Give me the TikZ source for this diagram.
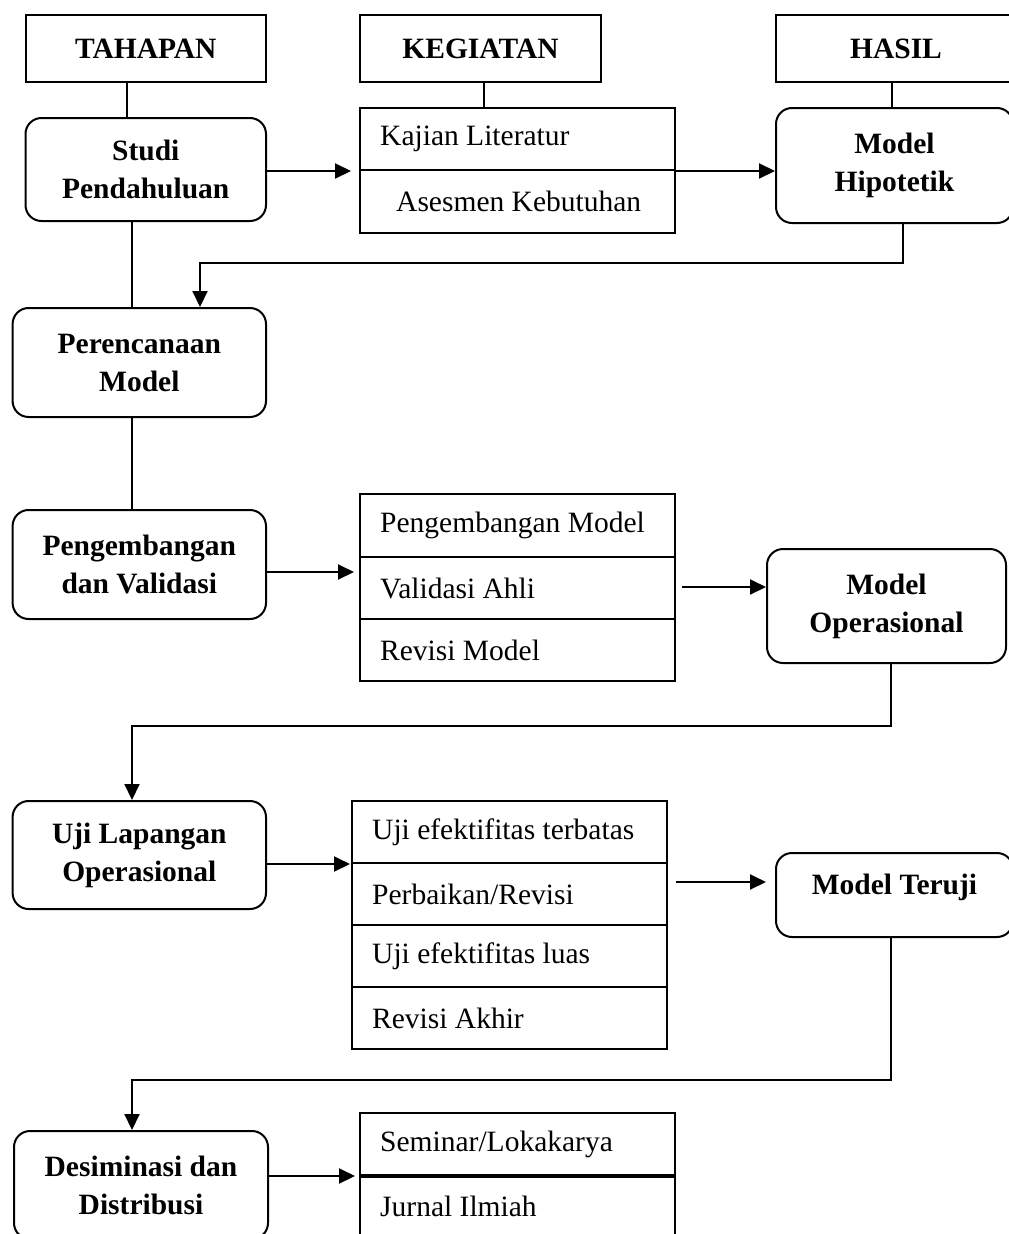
\documentclass[tikz,border=0pt]{standalone}
\usepackage{fontspec}
\setmainfont{Liberation Serif}
\usetikzlibrary{arrows.meta,calc}
\begin{document}
\begin{tikzpicture}[x=1pt,y=-1pt,
  boxline/.style={draw, line width=2pt},
  head/.style={boxline, inner sep=0pt, anchor=north west, font=\bfseries\fontsize{29.5}{38}\selectfont},
  stage/.style={boxline, rounded corners=16pt, inner sep=0pt, anchor=north west, align=center, font=\bfseries\fontsize{29.5}{38}\selectfont},
  row/.style={boxline, inner sep=0pt, anchor=north west, minimum width=315pt},
  item/.style={anchor=west, inner sep=0pt, font=\fontsize{29.5}{38}\selectfont},
  conn/.style={line width=1.4pt},
  arr/.style={line width=2pt, -{Triangle[length=16pt,width=15pt]}},
]
\useasboundingbox (0,0) rectangle (1009,1234);

% headers
\node[head, minimum width=240.5pt, minimum height=67pt] (tahapan) at (24.5,14) {TAHAPAN};
\node[head, minimum width=241pt, minimum height=67pt] (kegiatan) at (359,14) {KEGIATAN};
\node[head, minimum width=240pt, minimum height=67pt] (hasil) at (775,14) {HASIL};

% stages
\node[stage, minimum width=240.5pt, minimum height=103pt] (studi) at (24.5,117) {Studi\\Pendahuluan};
\node[stage, minimum width=253.4pt, minimum height=109pt] (perenc) at (11.6,307) {Perencanaan\\Model};
\node[stage, minimum width=253.4pt, minimum height=109pt] (pengemb) at (11.6,509) {Pengembangan\\dan Validasi};
\node[stage, minimum width=253.4pt, minimum height=108pt] (uji) at (11.6,800) {Uji Lapangan\\Operasional};
\node[stage, minimum width=254pt, minimum height=108pt] (desim) at (13,1130) {Desiminasi dan\\Distribusi};

% results
\node[stage, minimum width=237pt, minimum height=115pt] (hipotetik) at (775,107) {Model\\Hipotetik};
\node[stage, minimum width=239pt, minimum height=114pt] (operas) at (766,548) {Model\\Operasional};
\node[stage, minimum width=237pt, minimum height=84pt, text depth=22pt] (teruji) at (775,852) {Model Teruji};

% activity tables
\node[row, minimum height=62pt] (k1) at (359,107) {};
\node[row, minimum height=63pt] (k2) at (359,169) {};
\node[item] (tk1) at ($(k1.west)+(21,0)$) {Kajian Literatur};
\node[item] (tk2) at ($(k2.west)+(37,0)$) {Asesmen Kebutuhan};

\node[row, minimum height=63pt] (v1) at (359,493) {};
\node[row, minimum height=62pt] (v2) at (359,556) {};
\node[row, minimum height=62pt] (v3) at (359,618) {};
\node[item] (tv1) at ($(v1.west)+(21,0)$) {Pengembangan Model};
\node[item] (tv2) at ($(v2.west)+(21,0)$) {Validasi Ahli};
\node[item] (tv3) at ($(v3.west)+(21,0)$) {Revisi Model};

\node[row, minimum height=62pt] (u1) at (351,800) {};
\node[row, minimum height=62pt] (u2) at (351,862) {};
\node[row, minimum height=62pt] (u3) at (351,924) {};
\node[row, minimum height=62pt] (u4) at (351,986) {};
\node[item] (tu1) at ($(u1.west)+(21,0)$) {Uji efektifitas terbatas};
\node[item] (tu2) at ($(u2.west)+(21,0)$) {Perbaikan/Revisi};
\node[item] (tu3) at ($(u3.west)+(21,0)$) {Uji efektifitas luas};
\node[item] (tu4) at ($(u4.west)+(21,0)$) {Revisi Akhir};

\node[row, minimum height=62pt] (s1) at (359,1112) {};
\node[row, minimum height=62pt] (s2) at (359,1174) {};
\draw[line width=3.2pt] (s1.south west) -- (s1.south east);
\node[item] (ts1) at ($(s1.west)+(21,0)$) {Seminar/Lokakarya};
\node[item] (ts2) at ($(s2.west)+(21,0)$) {Jurnal Ilmiah};

% guide coordinates
\coordinate (xa) at (127,0);
\coordinate (xb) at (484,0);
\coordinate (xc) at (892,0);
\coordinate (xd) at (132,0);
\coordinate (ya) at (0,572);
\coordinate (yb) at (0,587);
\coordinate (yc) at (0,882);
\coordinate (yd) at (0,1176);
\coordinate (f1a) at (903,263);
\coordinate (f1b) at (200,263);
\coordinate (f2a) at (891,725.5);
\coordinate (f2b) at (132,725.5);
\coordinate (f3a) at (891,1080);
\coordinate (f3b) at (132,1080);

% plain connectors
\draw[conn] (tahapan.south -| xa) -- (studi.north -| xa);
\draw[conn] (kegiatan.south -| xb) -- (k1.north -| xb);
\draw[conn] (hasil.south -| xc) -- (hipotetik.north -| xc);
\draw[conn] (studi.south -| xd) -- (perenc.north -| xd);
\draw[conn] (perenc.south -| xd) -- (pengemb.north -| xd);

% arrows
\draw[arr, shorten >=8pt] (studi.east |- k1.south) -- (k1.south west);
\draw[arr] (k1.south east) -- (k1.south east -| hipotetik.west);
\draw[arr, shorten >=5pt] (pengemb.east |- ya) -- (v1.west |- ya);
\draw[arr, shorten <=6pt] (v2.east |- yb) -- (operas.west |- yb);
\draw[arr, shorten >=1pt] (uji.east |- u1.south) -- (u1.south west);
\draw[arr, shorten <=8pt, shorten >=9pt] (u2.east |- yc) -- (u2.east |- yc -| teruji.west);
\draw[arr, shorten >=4pt] (desim.east |- yd) -- (s1.west |- yd);

% feedback arrows
\draw[arr] (hipotetik.south -| f1a) -- (f1a) -- (f1b) -- (perenc.north -| f1b);
\draw[arr] (operas.south -| f2a) -- (f2a) -- (f2b) -- (uji.north -| f2b);
\draw[arr] (teruji.south -| f3a) -- (f3a) -- (f3b) -- (desim.north -| f3b);
\end{tikzpicture}
\end{document}
